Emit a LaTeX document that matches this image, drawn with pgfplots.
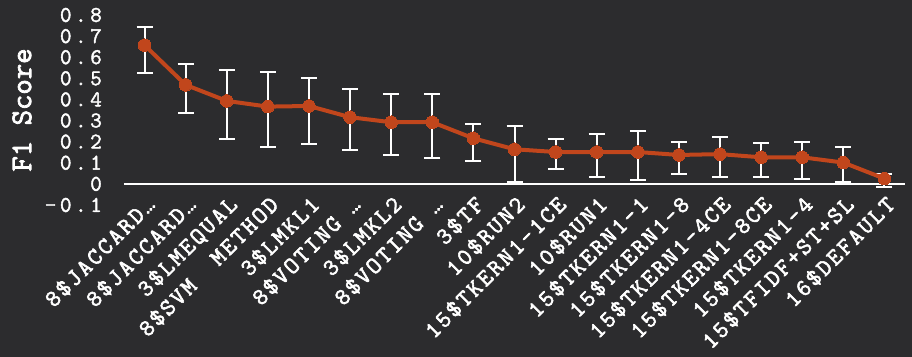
\documentclass[border=0pt]{standalone}
\usepackage{pgfplots}
\pgfplotsset{compat=1.18}
\usepackage{fontspec}
\newfontfamily\tickfont{Latin Modern Mono}[FakeBold=1.8, LetterSpace=16]
\newfontfamily\xfont{Latin Modern Mono}[FakeBold=2.5, LetterSpace=10]
\newfontfamily\labfont{Latin Modern Mono}[FakeBold=2.5]
\definecolor{bg}{HTML}{2C2C2E}
\definecolor{orng}{HTML}{C1461C}
\begin{document}
\begin{tikzpicture}
\fill[bg] (-124bp,-152bp) rectangle (788bp,205bp);
\begin{axis}[
  at={(0,0)}, anchor=south west,
  scale only axis, width=781bp, height=190bp,
  xmin=-0.5, xmax=18.5, ymin=-0.1, ymax=0.8,
  clip=false,
  axis line style={draw=none},
  major tick length=0pt,
  xtick={0,...,18},
  xticklabels={8\$JACCARD…,8\$JACCARD…,3\$LMEQUAL,8\$SVM\ \ METHOD,3\$LMKL1,8\$VOTING …,3\$LMKL2,8\$VOTING …,3\$TF,10\$RUN2,15\$TKERN1-1CE,10\$RUN1,15\$TKERN1-1,15\$TKERN1-8,15\$TKERN1-4CE,15\$TKERN1-8CE,15\$TKERN1-4,15\$TFIDF+ST+SL,16\$DEFAULT},
  ytick={-0.1,0,0.1,0.2,0.3,0.4,0.5,0.6,0.7,0.8},
  yticklabels={-0.1,0,0.1,0.2,0.3,0.4,0.5,0.6,0.7,0.8},
  /pgf/number format/assume math mode=true,
  yticklabel style={font=\fontsize{22.5}{22.5}\tickfont, text=white, anchor=east, inner sep=0pt, xshift=-22bp},
  xticklabel style={font=\fontsize{24}{24}\xfont, text=white, yshift=11bp, rotate=45, anchor=north east, inner sep=0pt},
  ylabel={F1 Score},
  ylabel style={font=\fontsize{30}{30}\labfont, text=white, at={(axis description cs:-0.1306,0.5)}, anchor=center},
]
\addplot[white, line width=2bp, forget plot] coordinates {(-0.5,0) (18.5,0)};
\addplot[draw=none, forget plot,
  error bars/.cd, y dir=both, y explicit,
  error bar style={white, line width=2bp},
  error mark options={white, rotate=90, mark size=8bp, line width=2bp}]
coordinates {
(0,0.657) += (0,0.085) -= (0,0.130)
(1,0.469) += (0,0.098) -= (0,0.131)
(2,0.393) += (0,0.145) -= (0,0.180)
(3,0.366) += (0,0.163) -= (0,0.191)
(4,0.369) += (0,0.134) -= (0,0.181)
(5,0.316) += (0,0.135) -= (0,0.156)
(6,0.292) += (0,0.133) -= (0,0.156)
(7,0.292) += (0,0.133) -= (0,0.169)
(8,0.216) += (0,0.069) -= (0,0.107)
(9,0.164) += (0,0.109) -= (0,0.155)
(10,0.151) += (0,0.061) -= (0,0.079)
(11,0.151) += (0,0.084) -= (0,0.116)
(12,0.151) += (0,0.098) -= (0,0.131)
(13,0.137) += (0,0.060) -= (0,0.090)
(14,0.141) += (0,0.083) -= (0,0.106)
(15,0.126) += (0,0.068) -= (0,0.091)
(16,0.126) += (0,0.071) -= (0,0.104)
(17,0.101) += (0,0.073) -= (0,0.092)
(18,0.025) += (0,0.022) -= (0,0.041)
};
\addplot[orng, line width=4bp, mark=*, mark size=6.3bp, mark options={fill=orng, draw=orng, line width=0pt}]
coordinates {
(0,0.657) (1,0.469) (2,0.393) (3,0.366) (4,0.369) (5,0.316) (6,0.292) (7,0.292) (8,0.216) (9,0.164)
(10,0.151) (11,0.151) (12,0.151) (13,0.137) (14,0.141) (15,0.126) (16,0.126) (17,0.101) (18,0.025)
};
\end{axis}
\pgfresetboundingbox
\useasboundingbox (-124bp,-152bp) rectangle (788bp,205bp);
\end{tikzpicture}
\end{document}
